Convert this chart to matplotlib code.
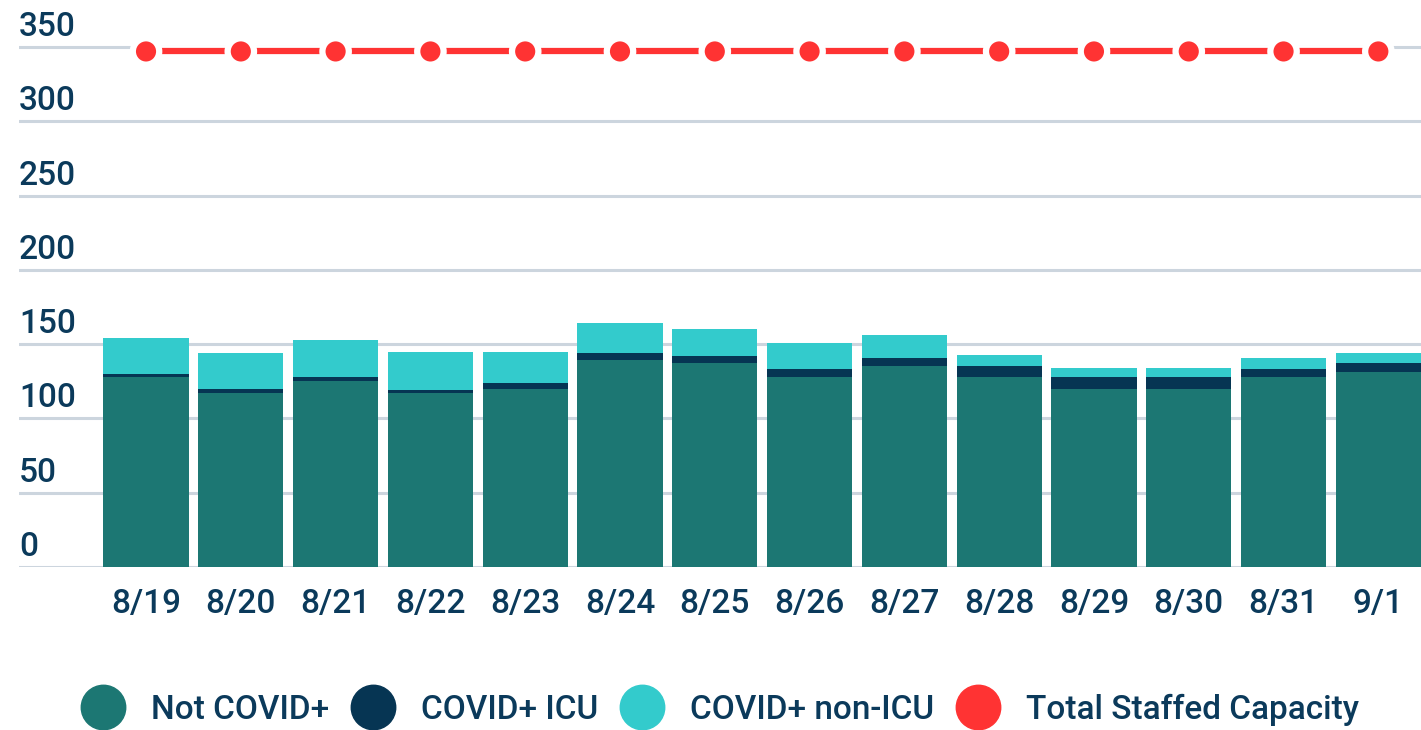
import matplotlib.pyplot as plt
import matplotlib.patheffects as pe
import matplotlib.transforms as mtransforms
from matplotlib.lines import Line2D

plt.rcParams['font.family'] = ['Roboto', 'DejaVu Sans']

dates = ["8/19", "8/20", "8/21", "8/22", "8/23", "8/24", "8/25",
         "8/26", "8/27", "8/28", "8/29", "8/30", "8/31", "9/1"]
not_covid = [128, 117, 125, 117, 120, 139, 137, 128, 135, 128, 120, 120, 128, 131]
covid_icu = [2, 3, 3, 2, 4, 5, 5, 5, 6, 7, 8, 8, 5, 6]
covid_non_icu = [24, 24, 25, 26, 21, 20, 18, 18, 15, 8, 6, 6, 8, 7]
capacity = [347] * 14

c_not = "#1c7773"
c_icu = "#063553"
c_non = "#33cbcc"
c_cap = "#ff3333"
txt = "#0b3a5b"
grid = "#ccd5de"

fig = plt.figure(figsize=(14.21, 7.30), dpi=100)
ax = fig.add_axes([19 / 1421, 163 / 730, 1 - 19 / 1421, 567 / 730])

x = list(range(len(dates)))
bottom2 = [a + b for a, b in zip(not_covid, covid_icu)]
ax.bar(x, not_covid, width=0.9, color=c_not, zorder=2)
ax.bar(x, covid_icu, width=0.9, bottom=not_covid, color=c_icu, zorder=2)
ax.bar(x, covid_non_icu, width=0.9, bottom=bottom2, color=c_non, zorder=2)

ax.plot(x, capacity, color=c_cap, lw=4.5, marker="o", markersize=16,
        markeredgecolor="white", markeredgewidth=1.5, zorder=4,
        path_effects=[pe.Stroke(linewidth=7.5, foreground="white"), pe.Normal()])

ax.set_xlim(-1.34, 13.45)
ax.set_ylim(0, 567 / (520 / 350))

yt = [0, 50, 100, 150, 200, 250, 300, 350]
for v in yt:
    ax.axhline(v, color=grid, lw=2.2, zorder=1)
ax.set_yticks([])
off = mtransforms.offset_copy(ax.get_yaxis_transform(), fig=fig, x=0, y=4, units="dots")
for v in yt:
    ax.text(0.0, v, str(v), transform=off, ha="left", va="bottom",
            fontsize=24, color=txt, fontweight="medium")

ax.set_xticks(x)
ax.set_xticklabels(dates, fontsize=24, color=txt, fontweight="medium")
ax.tick_params(axis="x", length=0, pad=15)
for s in ax.spines.values():
    s.set_visible(False)

handles = [Line2D([], [], ls="none", marker="o", markersize=32, color=c)
           for c in (c_not, c_icu, c_non, c_cap)]
labels = ["Not COVID+", "COVID+ ICU", "COVID+ non-ICU", "Total Staffed Capacity"]
leg = fig.legend(handles, labels, loc="center", bbox_to_anchor=(721 / 1421, 20 / 730),
                 ncol=4, frameon=False, fontsize=24, handletextpad=0.85,
                 columnspacing=0.7, handlelength=1.2)
for t in leg.get_texts():
    t.set_color(txt)
    t.set_fontweight("medium")

fig.savefig("out.png", dpi=100)
